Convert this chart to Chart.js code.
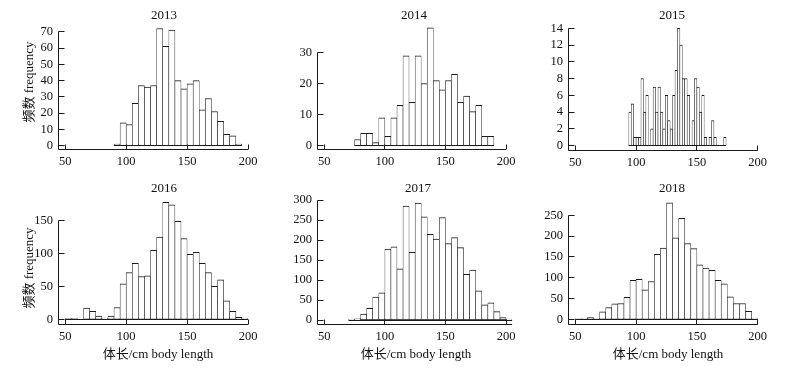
<!DOCTYPE html>
<html>
<head>
<meta charset="utf-8">
<script src="https://cdn.jsdelivr.net/npm/chart.js@4.4.0/dist/chart.umd.min.js"></script>
<style>
  body { margin: 0; background: #fff; width: 802px; height: 370px; overflow: hidden; position: relative;
         font-family: "Liberation Serif", "Noto Sans CJK SC", serif; color: #111; }
  canvas { position: absolute; }
  .lbl { position: absolute; transform: translate(-50%, -50%); white-space: nowrap; font-size: 13px; }
  .ylab { position: absolute; transform: translate(-50%, -50%) rotate(-90deg); white-space: nowrap; font-size: 13px; }
</style>
</head>
<body>
<script>
// tick labels
const xTicks = [50, 100, 150, 200];
const yTicks2013 = [0, 10, 20, 30, 40, 50, 60, 70];
const yTicks2014 = [0, 10, 20, 30];
const yTicks2015 = [0, 2, 4, 6, 8, 10, 12, 14];
const yTicks2016 = [0, 50, 100, 150];
const yTicks2017 = [0, 50, 100, 150, 200, 250, 300];
const yTicks2018 = [0, 50, 100, 150, 200, 250];

// histogram counts (first bin start, bin width in cm)
const counts2013 = [1, 14, 13, 26, 37, 36, 37, 72, 61, 71, 40, 35, 38, 40, 22, 29, 21, 15, 7, 6, 1];
const counts2014 = [2, 4, 4, 1, 9, 3, 9, 13, 29, 14, 29, 20, 38, 21, 18, 21, 23, 14, 16, 11, 13, 3, 3];
const counts2015 = [4, 5, 1, 1, 1, 8, 4, 6, 0, 2, 7, 4, 7, 4, 2, 6, 3, 2, 6, 9, 14, 12, 8, 8, 6, 0, 3, 8, 7, 4,
                    6, 1, 0, 1, 3, 1, 0, 0, 0, 1];
const counts2016 = [1, 1, 0, 17, 12, 5, 2, 5, 18, 54, 71, 85, 65, 66, 105, 125, 178, 174, 149, 123, 99, 102, 85, 71,
                    50, 60, 28, 12, 3, 2];
const counts2017 = [1, 3, 15, 29, 57, 68, 177, 183, 128, 285, 169, 292, 258, 214, 202, 256, 191, 206, 181, 114, 125,
                    73, 38, 43, 21, 6, 2];
const counts2018 = [1, 1, 4, 2, 18, 28, 37, 38, 53, 94, 96, 71, 91, 156, 171, 280, 196, 243, 182, 170, 131, 123, 118,
                    94, 85, 54, 38, 38, 19, 2];
const binStart = { 2013: 90, 2014: 75, 2015: 94, 2016: 50, 2017: 70, 2018: 50 };
const binWidth = { 2013: 5, 2014: 5, 2015: 2, 2016: 5, 2017: 5, 2018: 5 };

const titleText = "体长/cm body length";
const yTitleText = "频数 frequency";

// page layout: L/R/T/B = chart area in page pixels
const panels = [
  { year: 2013, counts: counts2013, yTicks: yTicks2013, L: 58.3, R: 248.3, T: 23.6, B: 149.5, xr: [44, 200], yr: [-2.33, 75], row: 0, tx: 164, ty: 15 },
  { year: 2014, counts: counts2014, yTicks: yTicks2014, L: 316.7, R: 505.7, T: 21.7, B: 149.3, xr: [44, 200], yr: [-1.16, 40], row: 0, tx: 414, ty: 15 },
  { year: 2015, counts: counts2015, yTicks: yTicks2015, L: 568, R: 757.7, T: 23.3, B: 150, xr: [44, 200], yr: [-0.51, 14.6], row: 0, tx: 672, ty: 15 },
  { year: 2016, counts: counts2016, yTicks: yTicks2016, L: 58.3, R: 248.3, T: 201, B: 324, xr: [44, 200], yr: [-7.15, 180], row: 175, tx: 164, ty: 188 },
  { year: 2017, counts: counts2017, yTicks: yTicks2017, L: 316.7, R: 511.8, T: 198, B: 324, xr: [44, 205], yr: [-10, 305], row: 175, tx: 418, ty: 188 },
  { year: 2018, counts: counts2018, yTicks: yTicks2018, L: 568, R: 757.7, T: 198.7, B: 324, xr: [44, 200], yr: [-11.3, 290], row: 175, tx: 672, ty: 188 }
];

const font = { family: "'Liberation Serif', serif", size: 12.5 };
const ink = "#1a1a1a";
const crisp = v => Math.round(v - 0.5) + 0.5;

const axesPlugin = {
  id: "axes",
  afterDatasetsDraw(chart, args, opts) {
    const { ctx } = chart;
    const x = chart.scales.x, y = chart.scales.y;
    const left = crisp(x.getPixelForValue(x.min));
    const right = x.getPixelForValue(x.max);
    const bottom = crisp(y.getPixelForValue(y.min));
    const top = crisp(y.getPixelForValue(opts.yTicks[opts.yTicks.length - 1]));
    const zero = crisp(y.getPixelForValue(0));
    ctx.save();
    ctx.strokeStyle = ink;
    ctx.lineWidth = 1;
    ctx.beginPath();
    // baseline under the bars
    ctx.moveTo(x.getPixelForValue(opts.start), zero);
    ctx.lineTo(x.getPixelForValue(opts.start + opts.bin * opts.n), zero);
    // axis lines
    ctx.moveTo(left, top);
    ctx.lineTo(left, bottom);
    ctx.lineTo(right, bottom);
    opts.yTicks.forEach(v => {
      const py = crisp(y.getPixelForValue(v));
      ctx.moveTo(left, py);
      ctx.lineTo(left + 6, py);
    });
    xTicks.forEach(v => {
      const px = crisp(x.getPixelForValue(v));
      ctx.moveTo(px, bottom);
      ctx.lineTo(px, bottom - 5);
    });
    ctx.stroke();
    ctx.restore();
  }
};

function addText(cls, text, x, y) {
  const d = document.createElement("div");
  d.className = cls;
  d.textContent = text;
  d.style.left = x + "px";
  d.style.top = y + "px";
  document.body.appendChild(d);
}

const padL = 50, padR = 16, xAxisH = 22;

panels.forEach(p => {
  const start = binStart[p.year], bin = binWidth[p.year];
  const rowH = p.row === 0 ? 175 : 195;
  const cx = p.L - padL;
  const cw = Math.round(p.R - p.L + padL + padR);
  const canvas = document.createElement("canvas");
  canvas.width = cw;
  canvas.height = rowH;
  canvas.style.left = cx + "px";
  canvas.style.top = p.row + "px";
  canvas.style.width = cw + "px";
  canvas.style.height = rowH + "px";
  document.body.appendChild(canvas);

  const padTop = p.T - p.row;
  const padBottom = rowH - (p.B - p.row) - xAxisH;

  new Chart(canvas, {
    type: "bar",
    data: {
      datasets: [{
        data: p.counts.map((c, i) => ({ x: start + bin * (i + 0.5), y: c })),
        backgroundColor: "#fff",
        borderColor: ink,
        borderWidth: { top: 1, bottom: 1, left: 0.6, right: 0.6 },
        borderSkipped: false,
        barPercentage: 1,
        categoryPercentage: 1
      }]
    },
    options: {
      responsive: false,
      animation: false,
      devicePixelRatio: 1,
      layout: { padding: { left: 0, right: cw - padL - (p.R - p.L), top: padTop, bottom: padBottom } },
      plugins: {
        legend: { display: false },
        tooltip: { enabled: false },
        axes: { yTicks: p.yTicks, start: start, bin: bin, n: p.counts.length }
      },
      scales: {
        x: {
          type: "linear",
          offset: false,
          min: p.xr[0],
          max: p.xr[1],
          grid: { display: false, drawTicks: false },
          border: { display: false },
          ticks: { font: font, color: "#111", padding: 5, maxRotation: 0, autoSkip: false },
          afterBuildTicks: s => { s.ticks = xTicks.map(v => ({ value: v })); },
          afterFit: s => { s.height = xAxisH; }
        },
        y: {
          min: p.yr[0],
          max: p.yr[1],
          grid: { display: false, drawTicks: false },
          border: { display: false },
          ticks: { font: font, color: "#111", padding: 5, autoSkip: false },
          afterBuildTicks: s => { s.ticks = p.yTicks.map(v => ({ value: v })); },
          afterFit: s => { s.width = padL; }
        }
      }
    },
    plugins: [axesPlugin]
  });

  addText("lbl", String(p.year), p.tx, p.ty);
});

addText("ylab", yTitleText, 27, 82);
addText("ylab", yTitleText, 27, 268);
addText("lbl", titleText, 158, 352);
addText("lbl", titleText, 416, 352);
addText("lbl", titleText, 668, 352);
</script>
</body>
</html>
